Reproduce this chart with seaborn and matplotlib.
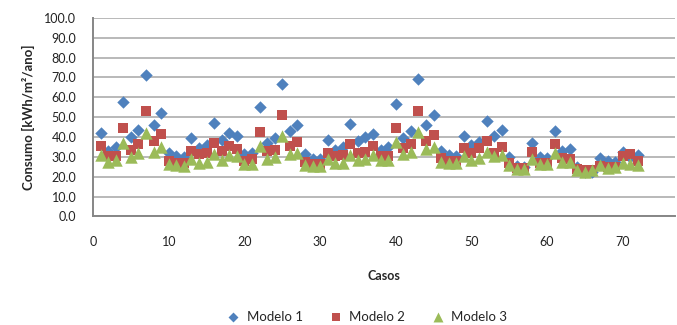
import matplotlib
matplotlib.use("Agg")
import matplotlib.pyplot as plt
import seaborn as sns
import pandas as pd

casos = list(range(1, 73))

modelo_1 = [42.0, 33.0, 35.0, 57.7, 39.8, 43.6, 71.2, 46.3, 52.1, 31.8,
            30.5, 30.0, 39.5, 34.3, 36.0, 47.0, 38.6, 42.1, 40.3, 31.4,
            31.8, 55.2, 37.0, 39.3, 66.9, 42.8, 46.0, 31.4, 29.0, 28.9,
            38.6, 33.5, 35.0, 46.5, 38.0, 39.8, 41.5, 33.4, 35.0, 56.5,
            39.5, 42.8, 69.2, 46.2, 51.0, 33.0, 31.0, 30.5, 40.5, 36.0,
            37.3, 48.3, 40.5, 43.5, 30.0, 25.4, 25.0, 37.0, 30.0, 29.5,
            42.8, 33.0, 34.0, 25.0, 22.6, 22.4, 29.5, 28.0, 27.5, 32.4,
            30.0, 31.0]

modelo_2 = [35.5, 30.4, 30.2, 44.7, 33.5, 36.6, 53.0, 38.0, 41.5, 27.7,
            27.0, 26.9, 32.8, 31.5, 32.0, 37.0, 32.8, 35.3, 34.1, 27.8,
            28.7, 42.3, 33.0, 33.4, 51.0, 35.7, 37.6, 27.4, 26.3, 26.3,
            32.0, 30.2, 31.0, 36.4, 32.0, 32.6, 35.7, 30.4, 30.5, 44.6,
            34.7, 36.4, 53.0, 38.1, 41.0, 29.2, 28.0, 28.0, 34.3, 31.8,
            34.3, 38.2, 32.0, 35.0, 26.7, 24.2, 24.2, 32.6, 27.0, 27.0,
            36.4, 29.5, 29.0, 24.0, 23.5, 23.5, 25.5, 25.0, 25.0, 30.5,
            31.5, 28.0]

modelo_3 = [30.9, 27.2, 28.2, 36.8, 30.0, 31.8, 42.1, 32.6, 35.0, 26.4,
            25.7, 25.5, 28.8, 26.8, 27.3, 31.6, 28.4, 30.7, 30.3, 26.5,
            26.4, 35.4, 29.0, 29.7, 40.5, 31.2, 32.0, 26.0, 25.4, 25.4,
            28.7, 26.7, 26.9, 30.9, 28.2, 28.7, 30.8, 28.2, 28.4, 37.6,
            31.4, 32.3, 42.6, 34.0, 35.2, 27.5, 26.7, 26.8, 30.6, 28.6,
            29.2, 32.6, 30.2, 30.9, 25.9, 24.0, 24.0, 28.7, 26.2, 26.2,
            32.0, 27.3, 27.2, 23.4, 22.5, 23.4, 25.9, 24.2, 25.0, 27.0,
            26.4, 25.9]

series_names = ["Modelo 1", "Modelo 2", "Modelo 3"]
y_ticks = [0, 10, 20, 30, 40, 50, 60, 70, 80, 90, 100]
x_ticks = [0, 10, 20, 30, 40, 50, 60, 70]

sns.set_theme(style="white")
plt.rcParams["font.family"] = ["Lato", "DejaVu Sans"]

fig = plt.figure(figsize=(6.77, 3.25), dpi=100)
ax = fig.add_axes([0.1375, 0.334, 0.8595, 0.611])

styles = [
    (modelo_1, "#4F81BD", "D", 40),
    (modelo_2, "#C0504D", "s", 62),
    (modelo_3, "#9BBB59", "^", 80),
]
for name, (vals, color, marker, size) in zip(series_names, styles):
    df = pd.DataFrame({"Casos": casos, "Consumo": vals})
    sns.scatterplot(data=df, x="Casos", y="Consumo", ax=ax, color=color,
                    marker=marker, s=size, linewidth=0, label=name,
                    zorder=3, legend=True)

ax.set_xlim(0, 76.9)
ax.set_ylim(0, 100)
ax.set_yticks(y_ticks)
ax.set_xticks(x_ticks)
ax.set_yticklabels([f"{v:.1f}" for v in y_ticks], fontsize=9, color="#222222")
ax.set_xticklabels([str(v) for v in x_ticks], fontsize=9, color="#222222")
ax.tick_params(axis="x", length=0, pad=14)
ax.tick_params(axis="y", length=0, pad=12)

ax.grid(axis="y", color="#a6a6a6", linewidth=1.1, zorder=0)
ax.set_axisbelow(True)
for side in ["top", "right"]:
    ax.spines[side].set_visible(False)
for side in ["left", "bottom"]:
    ax.spines[side].set_color("#868686")
    ax.spines[side].set_linewidth(1.4)

ax.set_xlabel("Casos", fontsize=9, fontweight="bold", labelpad=16)
ax.set_ylabel("Consumo [kWh/m²/ano]", fontsize=9.5, fontweight="bold",
              labelpad=7)

handles, labels = ax.get_legend_handles_labels()
ax.get_legend().remove()
fig.legend(handles, labels, loc="lower center", bbox_to_anchor=(0.537, -0.03),
           ncol=3, frameon=False, fontsize=9.5, handletextpad=0.0,
           columnspacing=1.5, markerscale=0.8)

fig.savefig("out.png", dpi=100)
